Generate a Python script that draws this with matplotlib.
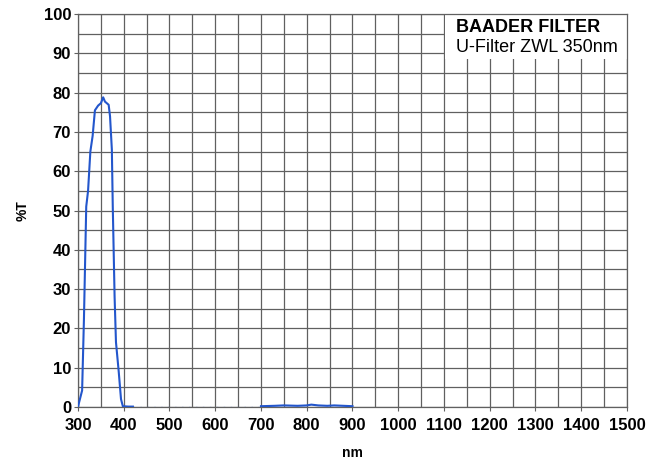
import matplotlib.pyplot as plt
import numpy as np

plt.rcParams["font.family"] = ["Liberation Sans", "DejaVu Sans"]

# transmission curve
wl_peak = [300, 302, 309, 313, 318, 322, 327, 332, 337, 344, 350, 355, 359, 363,
           367, 370, 374, 376, 380, 383, 389, 394, 398, 410, 420]
t_peak = [0, 1, 4.2, 22.4, 51, 55, 65, 69, 75.5, 76.7, 77.3, 78.8, 77.7, 77.3,
          76.9, 74, 65.5, 51, 28, 16.5, 9, 2, 0.2, 0.1, 0.1]

wl_flat = [420, 700]
t_flat = [0.1, 0.1]

wl_ir = [700, 730, 750, 780, 800, 810, 825, 845, 860, 880, 900]
t_ir = [0.2, 0.3, 0.4, 0.3, 0.4, 0.6, 0.4, 0.3, 0.4, 0.3, 0.2]

x_ticks = list(range(300, 1501, 100))
y_ticks = list(range(0, 101, 10))

fig = plt.figure(figsize=(6.5, 4.67), dpi=100)
ax = fig.add_axes([0.12, 0.1285, 0.8446, 0.8415])

line_color = "#2356cc"
ax.plot(wl_peak, t_peak, color=line_color, linewidth=1.5, zorder=3)
ax.plot(wl_flat, t_flat, color=line_color, linewidth=1.0, linestyle=(0, (1, 4)),
        alpha=0.5, zorder=3)
ax.plot(wl_ir, t_ir, color=line_color, linewidth=1.5, zorder=3)

ax.set_xlim(300, 1500)
ax.set_ylim(0, 100)
ax.set_xticks(x_ticks)
ax.set_yticks(y_ticks)
ax.set_xticks(np.arange(350, 1500, 100), minor=True)
ax.set_yticks(np.arange(5, 100, 10), minor=True)

ax.grid(which="both", color="#606060", linewidth=0.9)
ax.set_axisbelow(True)
for s in ax.spines.values():
    s.set_color("#606060")
    s.set_linewidth(0.9)

ax.tick_params(which="major", length=3, color="#606060", labelsize=12)
ax.tick_params(axis="x", pad=5)
ax.tick_params(axis="y", pad=2)
ax.tick_params(which="minor", length=0)
for lab in ax.get_xticklabels() + ax.get_yticklabels():
    lab.set_fontweight("bold")

ax.set_xlabel("nm", fontsize=10, fontweight="bold", labelpad=9)
ax.set_ylabel("%T", fontsize=10, fontweight="bold", labelpad=10)

# label box in the top right corner
ax.add_patch(plt.Rectangle((1102, 88.5), 398, 11.5, facecolor="white",
                           edgecolor="none", zorder=2))
ax.text(1126, 96.6, "BAADER FILTER", fontsize=13, fontweight="bold",
        va="center", ha="left", zorder=4)
ax.text(1126, 91.5, "U-Filter ZWL 350nm", fontsize=13, va="center",
        ha="left", zorder=4)

plt.savefig("out.png", dpi=100)
plt.close()
